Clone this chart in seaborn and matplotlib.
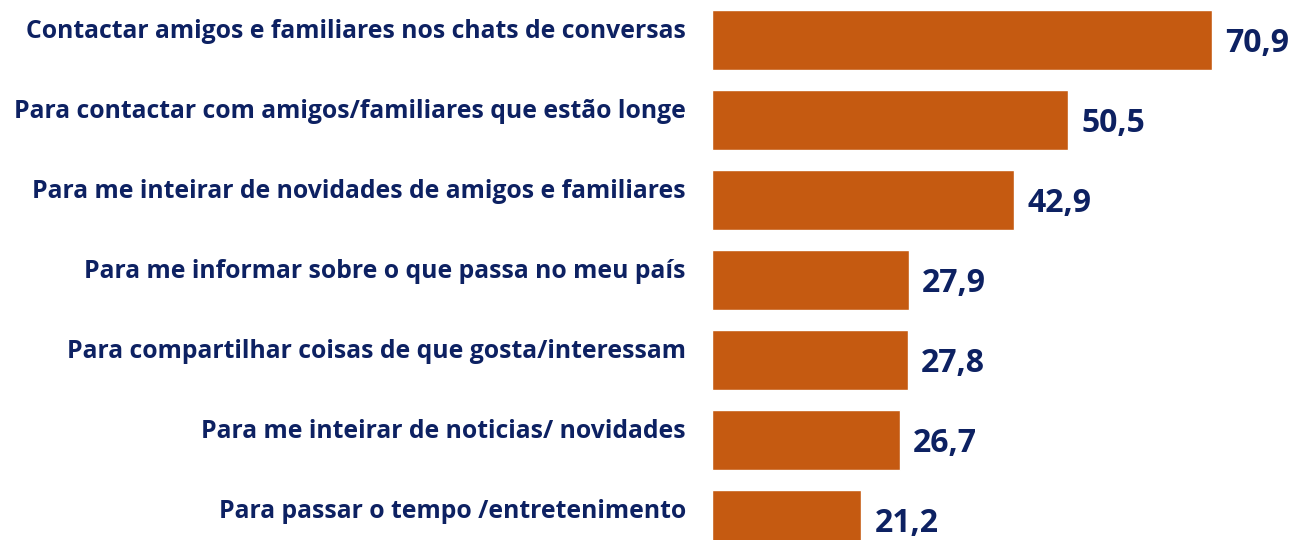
import pandas as pd
import matplotlib.pyplot as plt
import seaborn as sns

# motivos de uso (%)
motivos = [
    'Contactar amigos e familiares nos chats de conversas',
    'Para contactar com amigos/familiares que estão longe',
    'Para me inteirar de novidades de amigos e familiares',
    'Para me informar sobre o que passa no meu país',
    'Para compartilhar coisas de que gosta/interessam',
    'Para me inteirar de noticias/ novidades',
    'Para passar o tempo /entretenimento',
]
valores = [70.9, 50.5, 42.9, 27.9, 27.8, 26.7, 21.2]
rotulos = ['70,9', '50,5', '42,9', '27,9', '27,8', '26,7', '21,2']

df = pd.DataFrame({'motivo': motivos, 'valor': valores})

sns.set_style('white')
plt.rcParams['font.family'] = ['Open Sans', 'DejaVu Sans']

navy = '#0d2162'
laranja = '#c55a11'

fig = plt.figure(figsize=(12.94, 5.4), dpi=100)
ax = fig.add_axes([712 / 1294, 0, 582 / 1294, 1])

sns.barplot(data=df, x='valor', y='motivo', orient='h', color=laranja,
            width=0.74, saturation=1, ax=ax)

ax.set_xlim(0, 582 / 7.05)
ax.set_ylim(6.25, -0.5)
ax.set_xlabel('')
ax.set_ylabel('')
ax.set_xticks([])
ax.set_yticks([])
sns.despine(ax=ax, left=True, bottom=True)

for i, (m, v, r) in enumerate(zip(motivos, valores, rotulos)):
    # texto da categoria, alinhado à direita, um pouco acima do centro da barra
    ax.annotate(m, xy=(0, i), xytext=(-26, 9), textcoords='offset pixels',
                ha='right', va='center', fontsize=17.8, fontweight='bold',
                color=navy, annotation_clip=False)
    # valor ao lado da barra
    ax.annotate(r, xy=(v, i), xytext=(13, -3), textcoords='offset pixels',
                ha='left', va='center', fontsize=23, fontweight='bold',
                color=navy, annotation_clip=False)

fig.savefig('out.png', dpi=100)
